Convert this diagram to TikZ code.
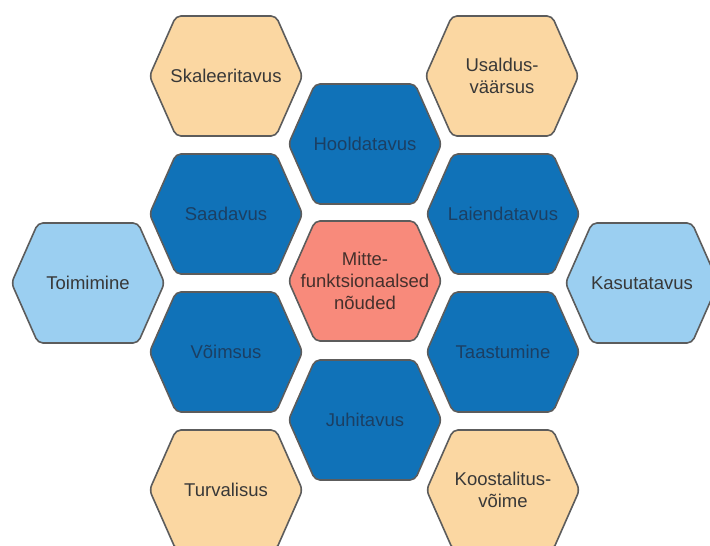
\documentclass[tikz,border=0pt]{standalone}
\usepackage{xcolor}
\usepackage{fontspec}
\setmainfont{Liberation Sans}
\usepackage{tikz}
\usetikzlibrary{positioning}

\definecolor{coreFill}{HTML}{F88A7B}
\definecolor{innerFill}{HTML}{1072B8}
\definecolor{sideFill}{HTML}{9BCFF1}
\definecolor{cornerFill}{HTML}{FBD7A2}
\definecolor{hexBorder}{HTML}{5C5C5C}
\definecolor{innerText}{HTML}{1B3F63}
\definecolor{plainText}{HTML}{383838}

\tikzset{
  hexshape/.style={draw=hexBorder, line width=1.6pt, rounded corners=5pt},
  hextext/.style={align=center, text=plainText, font=\fontsize{18.5}{22}\selectfont},
  core/.style={fill=coreFill},
  core text/.style={text=coreText},
  inner/.style={fill=innerFill},
  inner text/.style={text=innerText},
  side/.style={fill=sideFill},
  side text/.style={},
  corner/.style={fill=cornerFill},
  corner text/.style={},
}
\definecolor{coreText}{HTML}{45302C}

% name, centre, style, text
\newcommand{\hexcell}[4]{%
  \path[hexshape, #3, shift={(#2)}] (-76.5,0) -- (-50,-60) -- (50,-60) -- (76.5,0) -- (50,60) -- (-50,60) -- cycle;
  \node[hextext, #3 text] (#1) at (#2) {#4};
}

\begin{document}
\begin{tikzpicture}[x=1pt, y=-1pt]
  \useasboundingbox (0,0) rectangle (710,546);

  \hexcell{core}{365,281}{core}{Mitte-\\funktsionaalsed\\nõuded}

  \hexcell{hold}{365,144}{inner}{Hooldatavus}
  \hexcell{saad}{226,214}{inner}{Saadavus}
  \hexcell{laie}{503,214}{inner}{Laiendatavus}
  \hexcell{voim}{226,352}{inner}{Võimsus}
  \hexcell{taas}{503,352}{inner}{Taastumine}
  \hexcell{juhi}{365,420}{inner}{Juhitavus}

  \hexcell{toim}{88,283}{side}{Toimimine}
  \hexcell{kasu}{642,283}{side}{Kasutatavus}

  \hexcell{skal}{226,76}{corner}{Skaleeritavus}
  \hexcell{usal}{502,76}{corner}{Usaldus-\\väärsus}
  \hexcell{turv}{226,490}{corner}{Turvalisus}
  \hexcell{koos}{503,490}{corner}{Koostalitus-\\võime}
\end{tikzpicture}
\end{document}
